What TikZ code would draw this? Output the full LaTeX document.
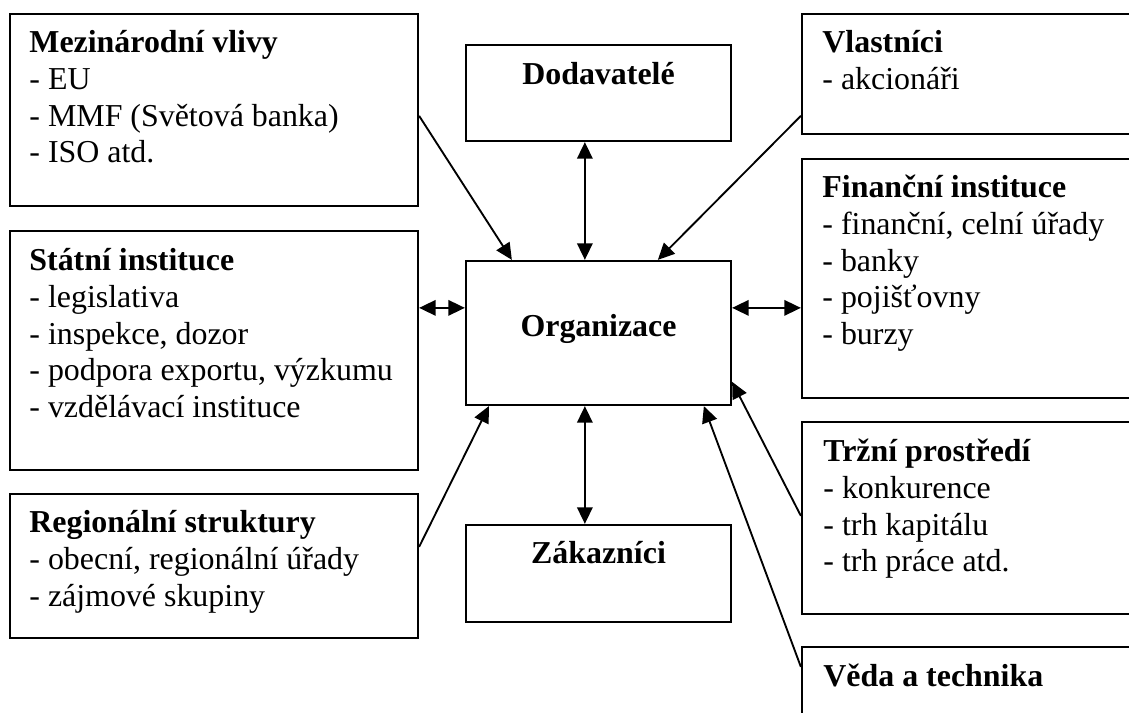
\documentclass[tikz,border=0pt]{standalone}
\usepackage{fontspec}
\setmainfont{Liberation Serif}
\usetikzlibrary{arrows.meta,fit,calc}
\begin{document}
\begin{tikzpicture}[x=0.376pt,y=-0.376pt,
  box/.style={draw,line width=0.85pt,inner sep=0pt},
  txt/.style={inner sep=0pt,font=\fontsize{12}{13.8}\selectfont},
  tip/.tip={Triangle[length=6.2pt,width=5.8pt]},
  link/.style={line width=0.7pt,-tip},
  twoway/.style={line width=0.7pt,tip-tip}]
\useasboundingbox (0,0) rectangle (1129,713);
\fill[white] (0,0) rectangle (1129,713);
\clip (0,0) rectangle (1129,713);

% frames
\node[box,fit={(10,14) (418,206)}]   (mez) {};
\node[box,fit={(466,45) (731,141)}]  (dod) {};
\node[box,fit={(802,14) (1140,134)}] (vla) {};
\node[box,fit={(10,231) (418,470)}]  (sta) {};
\node[box,fit={(466,261) (731,405)}] (org) {};
\node[box,fit={(802,159) (1140,398)}] (fin) {};
\node[box,fit={(10,494) (418,638)}]  (reg) {};
\node[box,fit={(466,525) (731,622)}] (zak) {};
\node[box,fit={(802,422) (1140,614)}] (trz) {};
\node[box,fit={(802,647) (1140,760)}] (ved) {};

% texts
\node[txt,anchor=base west] (tmez) at ($(mez.north west)+(20,40)$)
  {\begin{tabular}[t]{@{}l@{}}\textbf{Mezinárodní vlivy}\\- EU\\- MMF (Světová banka)\\- ISO atd.\end{tabular}};
\node[txt,anchor=base] (tdod) at ($(dod.north)+(0,41)$) {\textbf{Dodavatelé}};
\node[txt,anchor=base west] (tvla) at ($(vla.north west)+(21,40)$)
  {\begin{tabular}[t]{@{}l@{}}\textbf{Vlastníci}\\- akcionáři\end{tabular}};
\node[txt,anchor=base west] (tfin) at ($(fin.north west)+(21,40)$)
  {\begin{tabular}[t]{@{}l@{}}\textbf{Finanční instituce}\\- finanční, celní úřady\\- banky\\- pojišťovny\\- burzy\end{tabular}};
\node[txt,anchor=base west] (tsta) at ($(sta.north west)+(20,41)$)
  {\begin{tabular}[t]{@{}l@{}}\textbf{Státní instituce}\\- legislativa\\- inspekce, dozor\\- podpora exportu, výzkumu\\- vzdělávací instituce\end{tabular}};
\node[txt,anchor=base] (torg) at ($(org.north)+(0,77)$) {\textbf{Organizace}};
\node[txt,anchor=base west] (treg) at ($(reg.north west)+(20,40)$)
  {\begin{tabular}[t]{@{}l@{}}\textbf{Regionální struktury}\\- obecní, regionální úřady\\- zájmové skupiny\end{tabular}};
\node[txt,anchor=base] (tzak) at ($(zak.north)+(0,40)$) {\textbf{Zákazníci}};
\node[txt,anchor=base west] (ttrz) at ($(trz.north west)+(22,41)$)
  {\begin{tabular}[t]{@{}l@{}}\textbf{Tržní prostředí}\\- konkurence\\- trh kapitálu\\- trh práce atd.\end{tabular}};
\node[txt,anchor=base west] (tved) at ($(ved.north west)+(22,41)$) {\textbf{Věda a technika}};

% connectors
\draw[link]   ($(mez.north east)+(0,103)$) -- ($(org.north west)+(47,0)$);
\draw[twoway] ($(dod.south west)+(120,0)$) -- ($(org.north west)+(120,0)$);
\draw[link]   ($(vla.north west)+(0,103)$) -- ($(org.north west)+(193,0)$);
\draw[twoway] ($(sta.north east)+(0,78)$) -- ($(org.north west)+(0,48)$);
\draw[twoway] ($(org.north east)+(0,48)$) -- ($(fin.north west)+(0,150)$);
\draw[link]   ($(reg.north east)+(0,54)$) -- ($(org.south west)+(24,0)$);
\draw[twoway] ($(org.south west)+(120,0)$) -- ($(zak.north west)+(120,0)$);
\draw[link]   ($(trz.north west)+(0,95)$) -- ($(org.north east)+(0,122)$);
\draw[link]   ($(ved.north west)+(0,21)$) -- ($(org.south west)+(239,0)$);
\end{tikzpicture}
\end{document}
